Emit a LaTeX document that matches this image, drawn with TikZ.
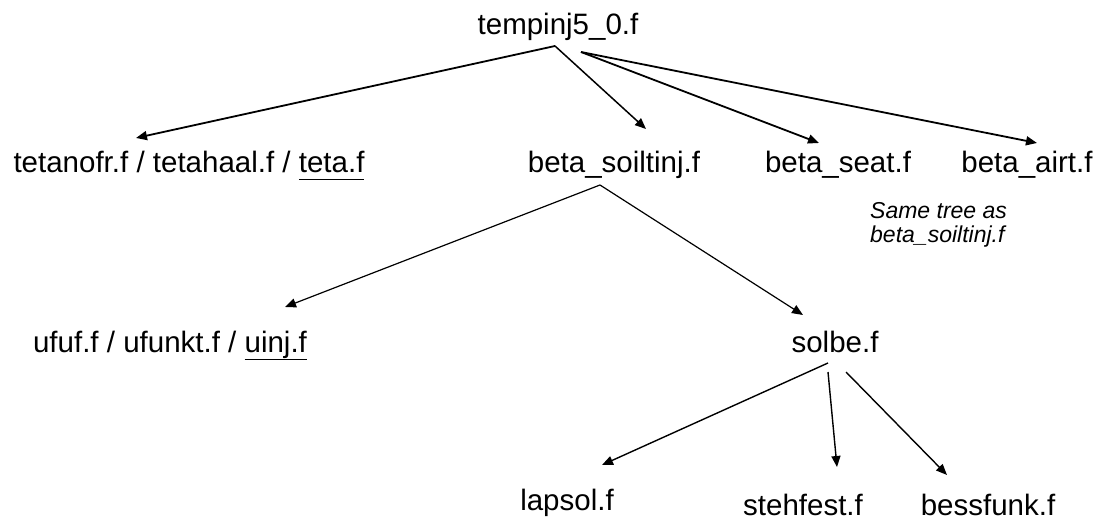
\documentclass[tikz,border=0pt]{standalone}
\usepackage{fontspec}
\setmainfont{Liberation Sans}
\usetikzlibrary{arrows.meta}

% underline with a fixed offset below the baseline
\newcommand\fileul[1]{\setbox0\hbox{#1}\rlap{\rule[-7.5pt]{\wd0}{1.8pt}}\box0}

\tikzset{
  file/.style={anchor=base, inner sep=0pt, font=\fontsize{29.5}{34}\selectfont},
  note/.style={anchor=north west, inner sep=0pt, align=left,
               font=\fontsize{23}{24}\selectfont\itshape},
  call/.style={-{Triangle[length=11pt,width=9pt]}, line width=1.3pt, black},
  callthick/.style={call, line width=1.8pt},
}

\begin{document}
\begin{tikzpicture}[x=1pt, y=-1pt]
  \useasboundingbox (0,0) rectangle (1101,529);

  % program files
  \node[file] (root)  at (558,35)  {tempinj5\_0.f};
  \node[file] (teta)  at (189,173) {tetanofr.f / tetahaal.f / \fileul{teta.f}};
  \node[file] (soil)  at (614,173) {beta\_soiltinj.f};
  \node[file] (seat)  at (838,173) {beta\_seat.f};
  \node[file] (airt)  at (1027,173) {beta\_airt.f};
  \node[note] (same)  at (870,202) {Same tree as\\beta\_soiltinj.f};
  \node[file] (ufuf)  at (170,353) {ufuf.f / ufunkt.f / \fileul{uinj.f}};
  \node[file] (solbe) at (835,353) {solbe.f};
  \node[file] (lapsol)   at (567,510) {lapsol.f};
  \node[file] (stehfest) at (803,515) {stehfest.f};
  \node[file] (bessfunk) at (988,515) {bessfunk.f};

  % calls from the main program
  \draw[callthick] ([shift={(-3,11)}]root.base) -- ([shift={(-53,-35)}]teta.base);
  \draw[call, line width=1.5pt] ([shift={(-3,11)}]root.base) -- ([shift={(32,-44)}]soil.base);
  \draw[callthick] ([shift={(23,17)}]root.base) -- ([shift={(-19,-30)}]seat.base);
  \draw[callthick] ([shift={(23,17)}]root.base) -- ([shift={(10,-30)}]airt.base);

  % calls from beta_soiltinj.f
  \draw[call, line width=1.2pt] ([shift={(-14,12)}]soil.base) -- ([shift={(115,-46)}]ufuf.base);
  \draw[call, line width=1.2pt] ([shift={(-14,12)}]soil.base) -- ([shift={(-32,-38)}]solbe.base);

  % calls from solbe.f
  \draw[call, line width=1.4pt] ([shift={(-7,10)}]solbe.base) -- ([shift={(35,-45)}]lapsol.base);
  \draw[call, line width=1.4pt] ([shift={(-7,19)}]solbe.base) -- ([shift={(34,-48)}]stehfest.base);
  \draw[call, line width=1.4pt] ([shift={(11,19)}]solbe.base) -- ([shift={(-41,-40)}]bessfunk.base);
\end{tikzpicture}
\end{document}
